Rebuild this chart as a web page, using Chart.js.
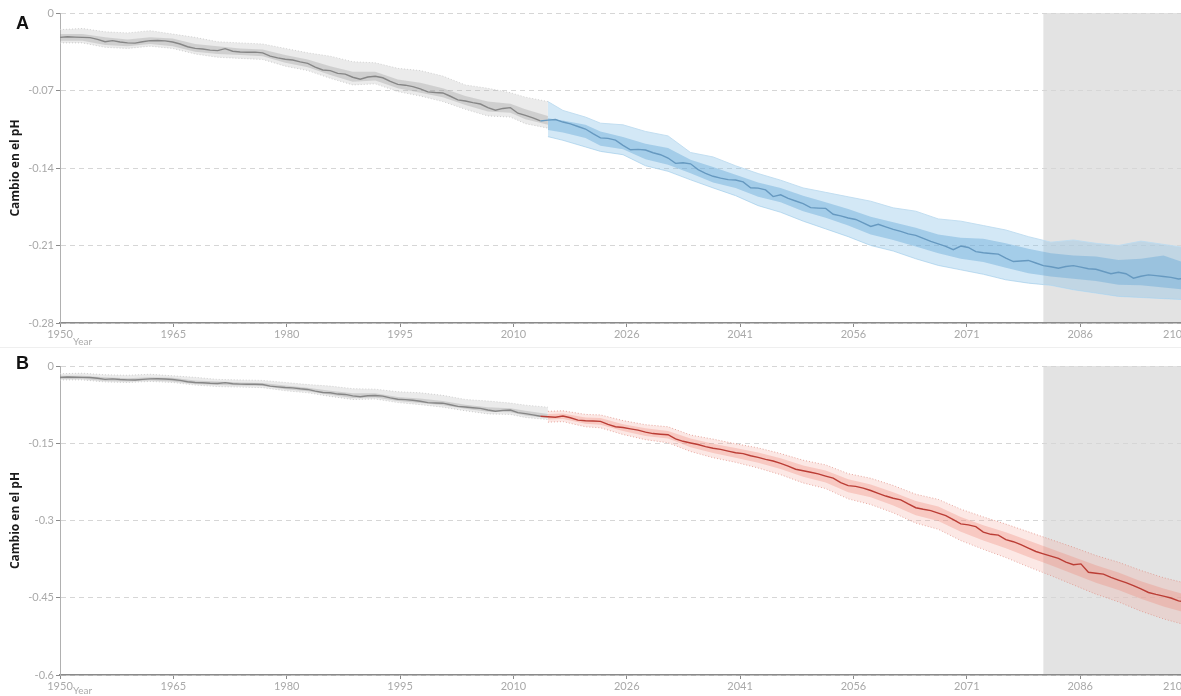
<!DOCTYPE html>
<html>
<head>
<meta charset="utf-8">
<script src="https://cdn.jsdelivr.net/npm/chart.js@4.4.0/dist/chart.umd.min.js"></script>
<style>
  html, body { margin: 0; padding: 0; background: #fff; overflow: hidden; width: 1181px; height: 696px; }
  .panel { position: absolute; left: 0; width: 1198px; }
  #wrapA { top: 0; height: 347px; }
  #wrapB { top: 348px; height: 348px; }
  .sep { position: absolute; left: 0; top: 347px; width: 1181px; height: 1px; background: #efefef; }
  .tag { position: absolute; left: 16px; font: bold 18px 'Liberation Sans', Arial, sans-serif; line-height: 18px; color: #111; }
  .year { position: absolute; left: 73px; font: 10px Lato, sans-serif; line-height: 10px; color: #aaa; }
  .lastTick { position: absolute; left: 1163px; font: 11px Lato, sans-serif; line-height: 13px; color: #a9a9a9; white-space: nowrap; }
</style>
</head>
<body>
<div class="panel" id="wrapA"><canvas id="chartA"></canvas></div>
<div class="sep"></div>
<div class="panel" id="wrapB"><canvas id="chartB"></canvas></div>
<div class="tag" style="top:14px">A</div>
<div class="tag" style="top:354px">B</div>
<div class="year" style="top:336px">Year</div>
<div class="year" style="top:685px">Year</div>
<div class="lastTick" id="lastA" style="top:327px"></div>
<div class="lastTick" id="lastB" style="top:679px"></div>

<script>
// ---- data ----
const histStart = 1950;   // historical run, one value per year 1950..2014
const histMean = [
  -0.022, -0.0215, -0.0218, -0.022, -0.0222, -0.0238, -0.026, -0.025, -0.0262, -0.027,
  -0.0272, -0.026, -0.025, -0.0248, -0.0252, -0.0262, -0.028, -0.0305, -0.032, -0.0325,
  -0.0335, -0.034, -0.0322, -0.0345, -0.0352, -0.0355, -0.0353, -0.036, -0.039, -0.0405,
  -0.0418, -0.0425, -0.0442, -0.0455, -0.0488, -0.0515, -0.052, -0.0545, -0.0552, -0.058,
  -0.0598, -0.0578, -0.0572, -0.0585, -0.0618, -0.0645, -0.0652, -0.0665, -0.0685, -0.0712,
  -0.0718, -0.0722, -0.0752, -0.0785, -0.0795, -0.081, -0.0822, -0.0855, -0.0878, -0.0862,
  -0.0855, -0.0905, -0.0925, -0.0948, -0.0975
];
const histBandYears = [1950, 1953, 1956, 1959, 1962, 1965, 1968, 1971, 1974, 1977, 1980, 1983,
  1986, 1989, 1992, 1995, 1998, 2001, 2004, 2007, 2010, 2012, 2015];
const histOuterTop = [-0.015, -0.014, -0.017, -0.018, -0.016, -0.019, -0.022, -0.026, -0.027, -0.028, -0.032, -0.036,
  -0.039, -0.044, -0.045, -0.050, -0.052, -0.057, -0.065, -0.068, -0.072, -0.076, -0.080];
const histInnerTop = [-0.019, -0.019, -0.022, -0.024, -0.022, -0.023, -0.028, -0.030, -0.032, -0.033, -0.038, -0.042,
  -0.048, -0.053, -0.053, -0.060, -0.063, -0.068, -0.075, -0.080, -0.082, -0.087, -0.093];
const histInnerBottom = [-0.025, -0.025, -0.029, -0.030, -0.028, -0.030, -0.035, -0.037, -0.038, -0.039, -0.045, -0.049,
  -0.056, -0.062, -0.061, -0.068, -0.072, -0.076, -0.083, -0.089, -0.090, -0.096, -0.101];
const histOuterBottom = [-0.027, -0.027, -0.031, -0.032, -0.030, -0.032, -0.037, -0.040, -0.041, -0.042, -0.048, -0.052,
  -0.059, -0.065, -0.064, -0.071, -0.075, -0.080, -0.087, -0.093, -0.094, -0.100, -0.104];

const futStart = 2015;    // scenario runs, one value per year 2015..2100
const futMeanA = [
  -0.0968, -0.0962, -0.0985, -0.1002, -0.1025,
  -0.1048, -0.109, -0.1128, -0.1132, -0.1148, -0.1195, -0.1235, -0.1232, -0.1238, -0.1262,
  -0.128, -0.131, -0.1358, -0.1352, -0.1362, -0.1415, -0.1448, -0.1475, -0.1492, -0.1505,
  -0.1508, -0.1525, -0.1578, -0.1582, -0.1598, -0.1658, -0.1642, -0.1675, -0.1698, -0.1722,
  -0.1758, -0.1762, -0.1765, -0.1818, -0.1832, -0.1852, -0.1865, -0.1895, -0.1928, -0.1908,
  -0.1932, -0.1955, -0.1972, -0.1995, -0.2008, -0.2035, -0.2062, -0.2085, -0.2108, -0.2138,
  -0.2105, -0.2118, -0.2155, -0.2165, -0.2172, -0.2178, -0.2215, -0.2245, -0.224, -0.2235,
  -0.2258, -0.2282, -0.2292, -0.2305, -0.229, -0.2282, -0.2295, -0.231, -0.2315, -0.2335,
  -0.2355, -0.2342, -0.2355, -0.2395, -0.2378, -0.2365, -0.2372, -0.238, -0.2388, -0.2402,
  -0.2395
];
const futMeanB = [
  -0.0985, -0.0995, -0.097, -0.1005, -0.105,
  -0.1062, -0.1068, -0.1075, -0.1135, -0.118, -0.1195, -0.122, -0.1245, -0.1285, -0.1312,
  -0.1325, -0.1335, -0.1415, -0.1462, -0.1495, -0.1525, -0.1565, -0.1598, -0.162, -0.1652,
  -0.1685, -0.1702, -0.1742, -0.1775, -0.1812, -0.1845, -0.1892, -0.1945, -0.2005, -0.2035,
  -0.2062, -0.2095, -0.2138, -0.2178, -0.2265, -0.2322, -0.2338, -0.2372, -0.2418, -0.2472,
  -0.2525, -0.2568, -0.2598, -0.2678, -0.2752, -0.2782, -0.2808, -0.2858, -0.2905, -0.2985,
  -0.3065, -0.3085, -0.3118, -0.3225, -0.3268, -0.3285, -0.3372, -0.3412, -0.3468, -0.3535,
  -0.3602, -0.3648, -0.3692, -0.3735, -0.3808, -0.3858, -0.3842, -0.4005, -0.4025, -0.4042,
  -0.4105, -0.4158, -0.4208, -0.4265, -0.4328, -0.4398, -0.4435, -0.4468, -0.4505, -0.4562,
  -0.4585
];
const futBandYears = [2015, 2017, 2020, 2022, 2025, 2028, 2031, 2034, 2037, 2040, 2043, 2046, 2049, 2052, 2055,
  2058, 2061, 2064, 2067, 2070, 2073, 2076, 2079, 2082, 2085, 2088, 2091, 2094, 2097, 2100];
const futOuterTopA = [-0.080, -0.088, -0.094, -0.0995, -0.101, -0.107, -0.111, -0.126, -0.130, -0.138, -0.145, -0.151, -0.158, -0.162, -0.166,
  -0.170, -0.176, -0.179, -0.186, -0.188, -0.192, -0.196, -0.202, -0.207, -0.205, -0.208, -0.210, -0.206, -0.209, -0.212];
const futInnerTopA = [-0.095, -0.097, -0.101, -0.107, -0.112, -0.118, -0.122, -0.1326, -0.139, -0.146, -0.153, -0.158, -0.165, -0.171, -0.177,
  -0.184, -0.189, -0.194, -0.200, -0.203, -0.204, -0.208, -0.213, -0.217, -0.219, -0.220, -0.223, -0.222, -0.219, -0.226];
const futInnerBottomA = [-0.1057, -0.108, -0.113, -0.120, -0.123, -0.132, -0.137, -0.1447, -0.153, -0.158, -0.166, -0.171, -0.179, -0.185, -0.192,
  -0.200, -0.205, -0.211, -0.217, -0.222, -0.225, -0.230, -0.235, -0.238, -0.240, -0.242, -0.2455, -0.246, -0.248, -0.250];
const futOuterBottomA = [-0.1117, -0.115, -0.121, -0.125, -0.128, -0.138, -0.143, -0.1507, -0.158, -0.165, -0.174, -0.180, -0.188, -0.195, -0.202,
  -0.210, -0.215, -0.222, -0.228, -0.232, -0.236, -0.241, -0.244, -0.246, -0.250, -0.253, -0.256, -0.257, -0.258, -0.259];
const futOuterTopB = [-0.088, -0.087, -0.094, -0.095, -0.106, -0.114, -0.118, -0.134, -0.142, -0.151, -0.159, -0.170, -0.183, -0.192, -0.209,
  -0.218, -0.232, -0.249, -0.259, -0.278, -0.293, -0.307, -0.322, -0.337, -0.352, -0.368, -0.381, -0.397, -0.411, -0.422];
const futInnerTopB = [-0.093, -0.092, -0.100, -0.101, -0.113, -0.121, -0.126, -0.141, -0.151, -0.159, -0.168, -0.179, -0.193, -0.203, -0.220,
  -0.230, -0.245, -0.262, -0.273, -0.293, -0.309, -0.323, -0.339, -0.355, -0.371, -0.387, -0.401, -0.418, -0.432, -0.444];
const futInnerBottomB = [-0.104, -0.103, -0.112, -0.114, -0.126, -0.136, -0.141, -0.158, -0.169, -0.178, -0.188, -0.200, -0.215, -0.226, -0.245,
  -0.255, -0.271, -0.290, -0.301, -0.322, -0.339, -0.354, -0.371, -0.387, -0.404, -0.421, -0.435, -0.452, -0.467, -0.479];
const futOuterBottomB = [-0.109, -0.108, -0.118, -0.120, -0.133, -0.143, -0.149, -0.166, -0.178, -0.187, -0.198, -0.211, -0.227, -0.238, -0.258,
  -0.269, -0.285, -0.305, -0.317, -0.339, -0.356, -0.372, -0.390, -0.407, -0.425, -0.443, -0.458, -0.476, -0.491, -0.503];

const shadeFrom = 2081;   // end-of-century window, shaded grey
const xTickYears = [1950, 1965.1, 1980.2, 1995.3, 2010.4, 2025.5, 2040.6, 2055.7, 2070.8, 2085.9, 2100];
const xTickLabels = ['1950', '1965', '1980', '1995', '2010', '2026', '2041', '2056', '2071', '2086', '2100'];
const yTicksA = [0, -0.07, -0.14, -0.21, -0.28];
const yLabelsA = ['0', '-0.07', '-0.14', '-0.21', '-0.28'];
const yTicksB = [0, -0.15, -0.3, -0.45, -0.6];
const yLabelsB = ['0', '-0.15', '-0.3', '-0.45', '-0.6'];

// ---- helpers ----
const seq = (start, ys) => ys.map((y, i) => ({ x: start + i, y }));
const pts = (xs, ys) => xs.map((x, i) => ({ x, y: ys[i] }));
const none = 'rgba(0,0,0,0)';
const tickFont = { family: 'Lato, sans-serif', size: 11 };
const lastIdx = xTickLabels.length - 1;

// the last year label sits pulled in at the page edge, so it is placed as text beside the canvas
document.getElementById('lastA').textContent = xTickLabels[lastIdx];
document.getElementById('lastB').textContent = xTickLabels[lastIdx];

const shadePlugin = {
  id: 'shade',
  beforeDraw(chart) {
    const { ctx, chartArea, scales } = chart;
    const x0 = scales.x.getPixelForValue(shadeFrom);
    ctx.save();
    ctx.fillStyle = '#e3e3e3';
    ctx.fillRect(x0, chartArea.top, chartArea.right - x0, chartArea.bottom - chartArea.top);
    ctx.restore();
  }
};

function makeChart(id, cfg) {
  const futMeanPts = [{ x: histStart + histMean.length - 1, y: histMean[histMean.length - 1] }]
    .concat(seq(futStart, cfg.mean));
  const datasets = [
    { data: futMeanPts, borderColor: cfg.line, borderWidth: 1.4 },
    { data: seq(histStart, histMean), borderColor: '#868686', borderWidth: 1.4 },
    { data: pts(futBandYears, cfg.innerTop), fill: '+1', backgroundColor: cfg.inner, borderColor: none },
    { data: pts(futBandYears, cfg.innerBottom), borderColor: none },
    { data: pts(futBandYears, cfg.outerTop), fill: '+1', backgroundColor: cfg.outer,
      borderColor: cfg.edge, borderWidth: 1, borderDash: cfg.edgeDash },
    { data: pts(futBandYears, cfg.outerBottom), borderColor: cfg.edge, borderWidth: 1, borderDash: cfg.edgeDash },
    { data: pts(histBandYears, histInnerTop), fill: '+1', backgroundColor: 'rgba(135,135,135,0.28)', borderColor: none },
    { data: pts(histBandYears, histInnerBottom), borderColor: none },
    { data: pts(histBandYears, histOuterTop), fill: '+1', backgroundColor: 'rgba(175,175,175,0.25)',
      borderColor: 'rgba(205,205,205,0.9)', borderWidth: 1, borderDash: [1, 2] },
    { data: pts(histBandYears, histOuterBottom), borderColor: 'rgba(205,205,205,0.9)', borderWidth: 1, borderDash: [1, 2] }
  ];

  return new Chart(document.getElementById(id), {
    type: 'line',
    data: { datasets },
    plugins: [shadePlugin],
    options: {
      responsive: true,
      maintainAspectRatio: false,
      animation: false,
      layout: { padding: { top: cfg.padTop, right: 12, bottom: 0, left: 0 } },
      elements: { point: { radius: 0 }, line: { tension: 0 } },
      plugins: { legend: { display: false }, tooltip: { enabled: false } },
      scales: {
        x: {
          type: 'linear', min: 1950, max: 2100,
          afterBuildTicks: s => { s.ticks = xTickYears.map(v => ({ value: v })); },
          afterFit: s => { s.height = cfg.xHeight; },
          ticks: { autoSkip: false, maxRotation: 0, padding: 1, color: '#a9a9a9', font: tickFont,
            callback: (v, i) => (i === lastIdx ? '' : xTickLabels[i]) },
          grid: { drawOnChartArea: false, drawTicks: true, tickLength: 4, tickColor: '#8a8a8a' },
          border: { color: '#8a8a8a', width: 1.5 }
        },
        y: {
          min: cfg.yTicks[cfg.yTicks.length - 1], max: 0,
          afterBuildTicks: s => { s.ticks = cfg.yTicks.map(v => ({ value: v })); },
          afterFit: s => { s.width = 60; },
          ticks: { padding: 2, color: '#a9a9a9', font: tickFont, callback: (v, i) => cfg.yLabels[i] },
          grid: { color: '#d6d6d6', tickColor: '#8a8a8a', tickLength: 4, tickBorderDash: [] },
          border: { color: '#b0b0b0', width: 1, dash: [5, 4] },
          title: { display: true, text: 'Cambio en el pH', color: '#1a1a1a',
            font: { family: "'Open Sans', sans-serif", size: 12, weight: 'bold' },
            padding: { top: 8, bottom: 0 } }
        }
      }
    }
  });
}

makeChart('chartA', {
  mean: futMeanA, line: '#6699c0',
  innerTop: futInnerTopA, innerBottom: futInnerBottomA, outerTop: futOuterTopA, outerBottom: futOuterBottomA,
  inner: 'rgba(100,168,215,0.42)', outer: 'rgba(140,195,232,0.38)',
  edge: 'rgba(190,220,240,0.9)', edgeDash: [],
  yTicks: yTicksA, yLabels: yLabelsA, padTop: 13, xHeight: 24
});

makeChart('chartB', {
  mean: futMeanB, line: '#bb3d35',
  innerTop: futInnerTopB, innerBottom: futInnerBottomB, outerTop: futOuterTopB, outerBottom: futOuterBottomB,
  inner: 'rgba(238,128,112,0.30)', outer: 'rgba(245,165,150,0.25)',
  edge: 'rgba(222,140,130,0.75)', edgeDash: [1, 2],
  yTicks: yTicksB, yLabels: yLabelsB, padTop: 18, xHeight: 21
});
</script>
</body>
</html>
